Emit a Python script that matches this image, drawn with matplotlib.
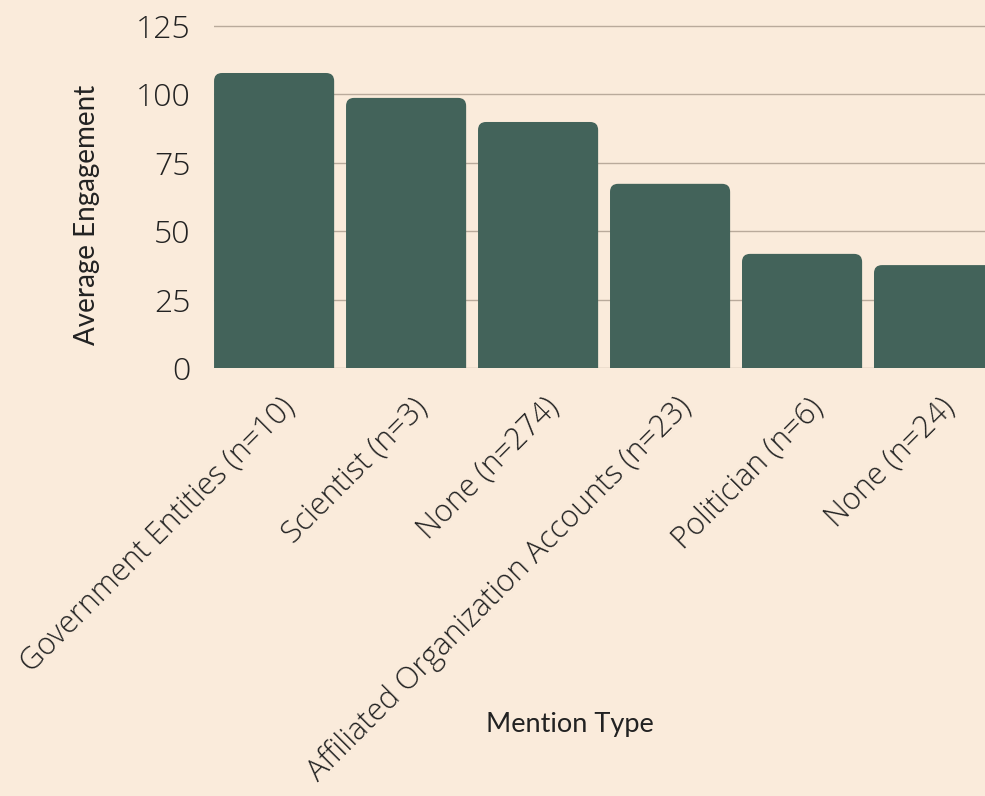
import matplotlib.pyplot as plt
import matplotlib.transforms as mtransforms
from matplotlib.patches import FancyBboxPatch

# data
mention_types = ['Government Entities (n=10)', 'Scientist (n=3)', 'None (n=274)',
                 'Affiliated Organization Accounts (n=23)', 'Politician (n=6)', 'None (n=24)']
avg_engagement = [107.8, 98.7, 89.9, 67.3, 41.7, 37.6]
y_ticks = [0, 25, 50, 75, 100, 125]

bg_color = '#faebdb'
bar_color = '#43635a'
grid_color = '#b9aa9b'
text_color = '#222222'

fig = plt.figure(figsize=(9.85, 7.96), dpi=100, facecolor=bg_color)
ax = fig.add_axes([0.2173, 0.5377, 0.7827, 0.4366])
ax.set_facecolor(bg_color)

x_pos = list(range(len(mention_types)))
bars = ax.bar(x_pos, avg_engagement, width=0.91, color=bar_color, zorder=2)

ax.set_xlim(-0.455, 5.386)
ax.set_ylim(0, 127)

# swap the plain bars for ones with rounded tops
fig.canvas.draw()
px_x = ax.transData.transform((1, 0))[0] - ax.transData.transform((0, 0))[0]
px_y = ax.transData.transform((0, 1))[1] - ax.transData.transform((0, 0))[1]
radius = 8 / px_x
for b in bars:
    x0, w, h = b.get_x(), b.get_width(), b.get_height()
    b.set_visible(False)
    p = FancyBboxPatch((x0, -10), w, h + 10,
                       boxstyle=f'round,pad=0,rounding_size={radius}',
                       mutation_aspect=px_x / px_y,
                       facecolor=bar_color, edgecolor='none', zorder=2)
    ax.add_patch(p)

ax.set_yticks(y_ticks)
ax.grid(True, axis='y', color=grid_color, linewidth=1, zorder=0)
ax.grid(False, axis='x')
for s in ax.spines.values():
    s.set_visible(False)

ax.tick_params(axis='y', length=0, pad=17, labelsize=23, labelcolor=text_color)
ax.tick_params(axis='x', length=0, pad=17, labelcolor=text_color)
for lbl in ax.get_yticklabels():
    lbl.set_fontfamily('Open Sans')
    lbl.set_fontweight('light')

ax.set_xticks(x_pos)
ax.set_xticklabels(mention_types, rotation=45, ha='right', rotation_mode='anchor',
                   fontsize=22, fontfamily='Open Sans', fontweight='light', color=text_color)
shift = mtransforms.ScaledTranslation(5 / 100, 0, fig.dpi_scale_trans)
for lbl in ax.get_xticklabels():
    lbl.set_transform(lbl.get_transform() + shift)

ax.set_xlabel('Mention Type', fontsize=19.5, fontfamily='Lato', color=text_color)
ax.set_ylabel('Average Engagement', fontsize=20, fontfamily='Lato', color=text_color)
ax.xaxis.set_label_coords(0.462, -0.99)
ax.yaxis.set_label_coords(-0.148, 0.44)

fig.savefig('out.png', dpi=100, facecolor=bg_color)
